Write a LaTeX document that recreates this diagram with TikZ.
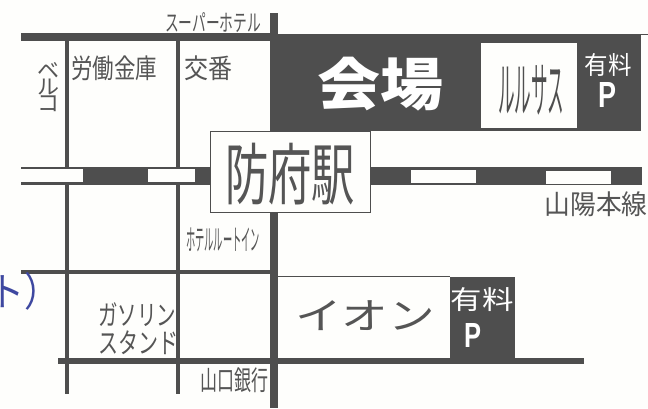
\documentclass[tikz,border=0pt]{standalone}
\usepackage{fontspec}
\usepackage{graphicx}
\setmainfont{Noto Sans CJK JP}
\newfontfamily\latinP{Liberation Sans}
\definecolor{ink}{RGB}{78,78,78}
\definecolor{txt}{RGB}{85,85,85}
\definecolor{paper}{RGB}{254,254,252}
\definecolor{bluetxt}{RGB}{62,72,160}
\newcommand{\fitbox}[3]{\resizebox*{#1pt}{#2pt}{#3}}
\tikzset{
  road/.style={fill=ink,draw=none},
  whitebox/.style={fill=paper,draw=ink,line width=1pt},
  lbl/.style={inner sep=0pt,outer sep=0pt,text=txt,anchor=center},
  wlbl/.style={inner sep=0pt,outer sep=0pt,text=white,anchor=center}
}
\begin{document}
\begin{tikzpicture}[x=1pt,y=-1pt]
\path[use as bounding box,fill=paper] (0,0) rectangle (648,408);
% thin top line to the right edge
\fill[ink] (270,34) rectangle (648,35);
% venue block
\path[road] (270,34) rectangle (641,131);
\path[fill=paper] (481,43) rectangle (577,128);
% roads
\path[road] (21,33) rectangle (270,41);
\path[road] (270,13) rectangle (278,34);
\path[road] (65,41) rectangle (69,394);
\path[road] (176,41) rectangle (180,394);
\path[road] (21,270) rectangle (270,274);
\path[road] (270,208) rectangle (278,408);
\path[road] (58,358) rectangle (584,364);
% rail
\path[road] (21,167) rectangle (642,185);
\path[fill=paper] (21,169) rectangle (83,182);
\path[fill=paper] (148,169) rectangle (195,182);
\path[fill=paper] (411,170) rectangle (476,183);
\path[fill=paper] (546,171) rectangle (611,184);
% AEON block
\fill[ink] (278,276) rectangle (450,277);
\path[road] (450,277) rectangle (515,364);
% station
\node[whitebox,minimum width=160pt,minimum height=81pt,inner sep=0pt] (station) at (290.5,171.5) {};
% texts
\node[lbl] (superhotel) at (213,23) {\fitbox{96}{20}{スーパーホテル}};
\node[lbl] (beru1) at (48,70) {\fitbox{22}{16}{ベ}};
\node[lbl] (beru2) at (48,87) {\fitbox{22}{16}{ル}};
\node[lbl] (beru3) at (48,104) {\fitbox{22}{16}{コ}};
\node[lbl] (rodo) at (114,68) {\fitbox{86}{25}{労働金庫}};
\node[lbl] (koban) at (208,68) {\fitbox{48}{25}{交番}};
\node[wlbl] (kaijo) at (380,84) {\fitbox{126}{54}{\bfseries 会場}};
\node[lbl,text=ink] (lalasa) at (531,90) {\fitbox{66}{50}{ルルサス}};
\node[wlbl] (yuryo1) at (608,65) {\fitbox{47}{23}{有料}};
\node[wlbl] (p1) at (607,95) {\fitbox{18}{25}{\latinP\bfseries P}};
\node[lbl] (hofu) at (290,174) {\fitbox{130}{62}{防府駅}};
\node[lbl] (sanyo) at (596,204) {\fitbox{103}{25}{山陽本線}};
\node[lbl] (route) at (223,240) {\fitbox{74}{24}{ホテルルートイン}};
\node[lbl] (gas1) at (137,315) {\fitbox{78}{24}{ガソリン}};
\node[lbl] (gas2) at (138,343) {\fitbox{80}{24}{スタンド}};
\node[lbl] (bank) at (234,380) {\fitbox{68}{25}{山口銀行}};
\node[lbl] (aeon) at (365,316) {\fitbox{140}{30}{イオン}};
\node[wlbl] (yuryo2) at (482,300) {\fitbox{63}{24}{有料}};
\node[wlbl] (p2) at (473,335) {\fitbox{17}{24}{\latinP\bfseries P}};
\node[inner sep=0pt,text=bluetxt,anchor=west] (blue) at (0,291) {\fitbox{42}{38}{\hspace*{-0.3em}ト）\hspace*{-0.5em}}};
\end{tikzpicture}
\end{document}
